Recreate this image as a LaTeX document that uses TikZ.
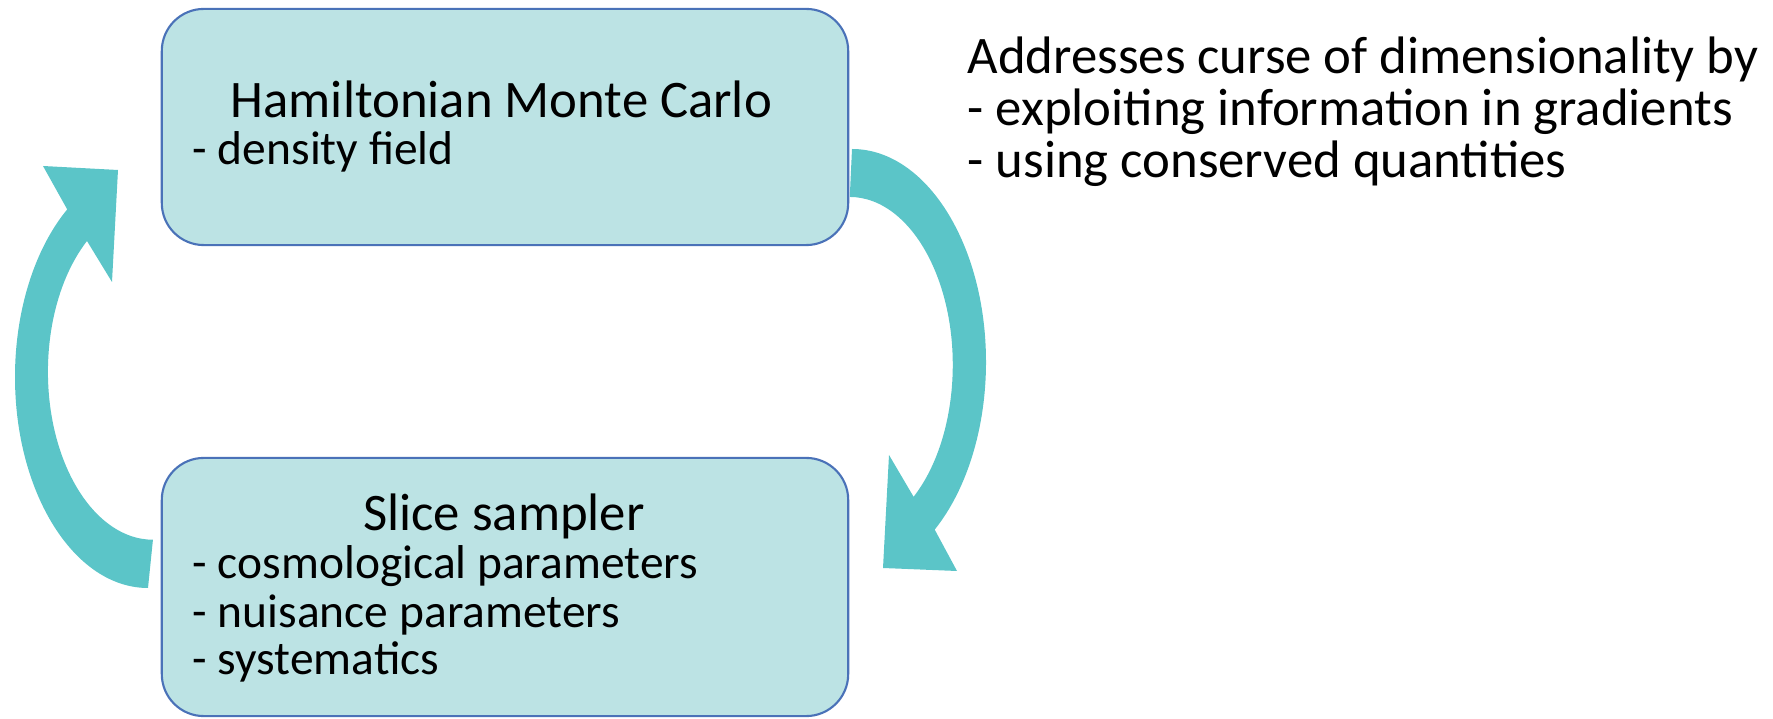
\documentclass[tikz,border=0pt]{standalone}
\usepackage{fontspec}
\setmainfont{Carlito}
\usetikzlibrary{arrows.meta, positioning, calc}

\definecolor{boxfill}{HTML}{BCE3E4}
\definecolor{boxline}{HTML}{4A72B8}
\definecolor{loopcol}{HTML}{5BC5C8}

\begin{document}
\begin{tikzpicture}[x=0.01cm, y=-0.01cm, line join=round,
    stage/.style={draw=boxline, fill=boxfill, line width=0.6pt, rounded corners=0.42cm,
        minimum width=6.86cm, inner sep=0pt},
    txt/.style={anchor=base west, inner sep=0pt, font=\fontsize{15pt}{18pt}\selectfont},
    item/.style={txt, font=\fontsize{13.5pt}{16pt}\selectfont},
    bigarrow/.style={fill=loopcol}]
    \useasboundingbox (0,0) rectangle (1773,719);

    \node[stage, minimum height=2.36cm] (hmc) at (505,127) {};
    \node[stage, minimum height=2.58cm] (slice) at (505,587) {};

    \node[txt] (hmctitle) at (230,118) {Hamiltonian Monte Carlo};
    \node[item] (hmcfield) at (192,165) {- density field};

    \node[txt, anchor=base] (slicetitle) at (504,531) {Slice sampler};
    \node[item] (slicecosmo) at (192,579) {- cosmological parameters};
    \node[item] (slicenuis) at (192,627) {- nuisance parameters};
    \node[item] (slicesys) at (192,675) {- systematics};

    \node[txt] (note) at (967,74) {Addresses curse of dimensionality by};
    \node[txt] (notegrad) at (967,126) {- exploiting information in gradients};
    \node[txt] (notecons) at (967,178) {- using conserved quantities};

    % sampler -> HMC
    \coordinate (lout) at (43,166);
    \coordinate (ltip) at (118,170);
    \coordinate (lin) at (112,282);
    \fill[bigarrow] (148,588) arc[start angle=90, end angle=232.6, x radius=133, y radius=211]
        -- (lout) -- (ltip) -- (lin) -- (87,241)
        arc[start angle=231.1, end angle=90, x radius=105, y radius=168] -- cycle;

    % HMC -> sampler
    \coordinate (rout) at (957,571);
    \coordinate (rtip) at (883,568);
    \coordinate (rin) at (889,455);
    \fill[bigarrow] (852,149) arc[start angle=-90, end angle=51.9, x radius=134, y radius=213]
        -- (rout) -- (rtip) -- (rin) -- (913.6,496.8)
        arc[start angle=51.7, end angle=-90, x radius=103, y radius=168] -- cycle;
\end{tikzpicture}
\end{document}
